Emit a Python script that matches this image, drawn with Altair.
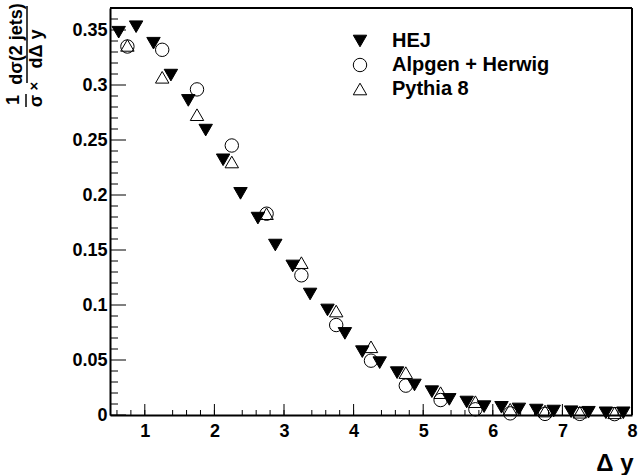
import altair as alt
import pandas as pd

# ---- data ----
series_names = ["HEJ", "Alpgen + Herwig", "Pythia 8"]

hej_x = [0.625, 0.875, 1.125, 1.375, 1.625, 1.875, 2.125, 2.375, 2.625, 2.875,
         3.125, 3.375, 3.625, 3.875, 4.125, 4.375, 4.625, 4.875, 5.125, 5.375,
         5.625, 5.875, 6.125, 6.375, 6.625, 6.875, 7.125, 7.375, 7.625, 7.875]
hej_y = [0.348, 0.353, 0.338, 0.309, 0.286, 0.259, 0.232, 0.2015, 0.179, 0.1545,
         0.1355, 0.110, 0.0955, 0.0742, 0.0576, 0.0476, 0.0385, 0.0273, 0.0212, 0.0142,
         0.0118, 0.0076, 0.0070, 0.0055, 0.0045, 0.0036, 0.0030, 0.0025, 0.0020, 0.0020]

alp_x = [0.75, 1.25, 1.75, 2.25, 2.75, 3.25, 3.75, 4.25, 4.75, 5.25,
         5.75, 6.25, 6.75, 7.25, 7.75]
alp_y = [0.335, 0.332, 0.296, 0.245, 0.183, 0.127, 0.0818, 0.0494, 0.0267, 0.0136,
         0.0052, 0.0015, 0.0010, 0.0010, 0.0008]

py8_x = [0.75, 1.25, 1.75, 2.25, 2.75, 3.25, 3.75, 4.25, 4.75, 5.25,
         5.75, 6.25, 6.75, 7.25, 7.75]
py8_y = [0.336, 0.307, 0.273, 0.230, 0.183, 0.1385, 0.0945, 0.062, 0.0385, 0.0203,
         0.0121, 0.0052, 0.0036, 0.0025, 0.0020]

x_major = [1, 2, 3, 4, 5, 6, 7, 8]
x_minor = [round(0.6 + 0.2 * i, 1) for i in range(38) if (i + 2) % 5 != 0]
y_major = [0, 0.05, 0.1, 0.15, 0.2, 0.25, 0.3, 0.35]
y_minor = [round(0.01 * i, 2) for i in range(1, 37) if i % 5 != 0]

# ---- layout ----
W, H = 522, 407
FONT = "Liberation Sans"

df = pd.concat([
    pd.DataFrame({"x": hej_x, "y": hej_y, "series": series_names[0]}),
    pd.DataFrame({"x": alp_x, "y": alp_y, "series": series_names[1]}),
    pd.DataFrame({"x": py8_x, "y": py8_y, "series": series_names[2]}),
], ignore_index=True)

xs = alt.Scale(domain=[0.5, 8], nice=False, zero=False)
ys = alt.Scale(domain=[0, 0.37], nice=False, zero=False)

x_axis = alt.Axis(
    values=x_major, ticks=False, domain=True, domainColor="black", domainWidth=2,
    grid=False, labelFont=FONT, labelFontSize=18, labelFontWeight="bold",
    labelColor="black", labelPadding=7, labelFlush=False,
    title="Δ y", titleX=W + 1, titleY=48, titleAlign="right", titleBaseline="middle",
    titleFont=FONT, titleFontSize=24, titleFontWeight="bold", titleColor="black")
y_axis = alt.Axis(
    values=y_major, format="~g", ticks=False, domain=True, domainColor="black",
    domainWidth=2, grid=False, labelFont=FONT, labelFontSize=18,
    labelFontWeight="bold", labelColor="black", labelPadding=3, labelFlush=False,
    title=None)

leg = alt.Legend(
    orient="none", legendX=240, legendY=23, title=None, padding=0,
    labelFont=FONT, labelFontSize=20, labelFontWeight="bold", labelColor="black",
    labelOffset=22, rowPadding=4, symbolSize=180, symbolStrokeWidth=1,
)

points = alt.Chart(df).mark_point(filled=True, size=180, strokeWidth=1, opacity=1).encode(
    x=alt.X("x:Q", scale=xs, axis=x_axis),
    y=alt.Y("y:Q", scale=ys, axis=y_axis),
    shape=alt.Shape("series:N", scale=alt.Scale(domain=series_names,
                    range=["triangle-down", "circle", "triangle-up"]), legend=leg),
    fill=alt.Fill("series:N", scale=alt.Scale(domain=series_names,
                  range=["black", "transparent", "transparent"]), legend=leg),
    stroke=alt.Stroke("series:N", scale=alt.Scale(domain=series_names,
                      range=["black", "black", "black"]), legend=leg),
)


def xticks(vals, length):
    return alt.Chart(pd.DataFrame({"v": vals})).mark_rule(color="black", strokeWidth=1).encode(
        x=alt.X("v:Q", scale=xs, axis=x_axis), y=alt.value(H), y2=alt.value(H - length))


def yticks(vals, length):
    return alt.Chart(pd.DataFrame({"v": vals})).mark_rule(color="black", strokeWidth=1).encode(
        y=alt.Y("v:Q", scale=ys, axis=y_axis), x=alt.value(0), x2=alt.value(length))


def label(txt, x, y, size=18, angle=270):
    return alt.Chart(pd.DataFrame({"t": [txt]})).mark_text(
        angle=angle, font=FONT, fontSize=size, fontWeight="bold", color="black",
        align="center", baseline="middle").encode(
        text="t:N", x=alt.value(x), y=alt.value(y))


def rule(x1, x2, y1, y2, w=1.5):
    return alt.Chart(pd.DataFrame({"a": [0]})).mark_rule(color="black", strokeWidth=w).encode(
        x=alt.value(x1), x2=alt.value(x2), y=alt.value(y1), y2=alt.value(y2))


frame = [rule(0, W, 0, 0, 2), rule(W, W, 0, H, 2)]

ytitle = [
    label("1", -96, 92),
    rule(-84, -84, 86, 99),
    label("σ", -73, 93),
    label("×", -76, 78, 15),
    label("dσ(2 jets)", -93, 36),
    rule(-83, -83, -2, 75),
    label("dΔ y", -73, 41),
]

chart = alt.layer(
    xticks(x_major, 11), xticks(x_minor, 5),
    yticks(y_major, 16), yticks(y_minor, 8),
    points, *frame, *ytitle,
).properties(
    width=W, height=H, autosize="none",
    padding={"left": 110, "top": 8, "right": 7, "bottom": 60},
).configure_view(
    stroke=None
).configure(background="white", font=FONT)

chart.save("out.html", embed_options={"renderer": "svg", "actions": False})
